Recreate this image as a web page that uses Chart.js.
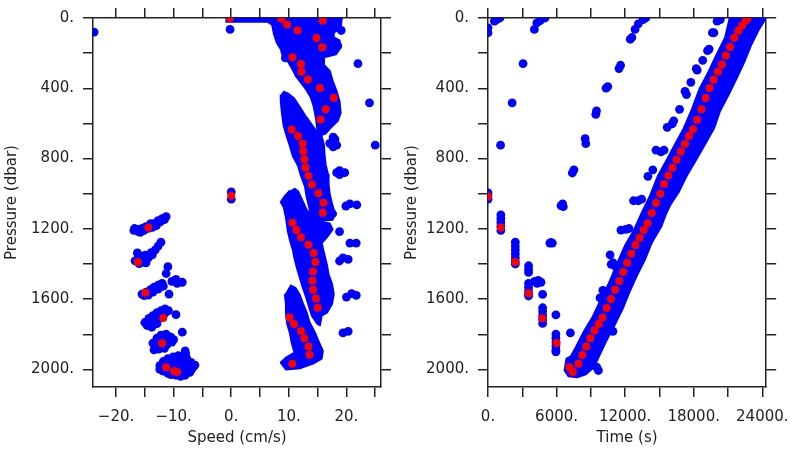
<!DOCTYPE html>
<html><head><meta charset="utf-8">
<script src="https://cdn.jsdelivr.net/npm/chart.js@4.4.1/dist/chart.umd.min.js"></script>
<style>
html,body{margin:0;padding:0;background:#fff;}
#wrap{position:relative;width:800px;height:450px;background:#fff;}
canvas{position:absolute;top:0;}
#c1{left:0;}#c2{left:400px;}
</style></head><body>
<div id="wrap"><canvas id="c1" width="400" height="450"></canvas><canvas id="c2" width="400" height="450"></canvas></div>
<script>
// ---------- ticks ----------
const speedTicks = [-20, -15, -10, -5, 0, 5, 10, 15, 20, 25];
const speedTickLabels = [-20, -10, 0, 10, 20];
const timeTicks = [0, 3000, 6000, 9000, 12000, 15000, 18000, 21000, 24000];
const timeTickLabels = [0, 6000, 12000, 18000, 24000];
const pressureTicks = [0, 200, 400, 600, 800, 1000, 1200, 1400, 1600, 1800, 2000];
const pressureTickLabels = [0, 400, 800, 1200, 1600, 2000];

// ---------- LEFT PANEL: speed (cm/s), pressure (dbar) ----------
const leftRed = [[-0.2,0],[8.7,4],[15.9,15],[9.7,37],[11.5,71],[14.8,114],[15.8,166],[10.6,223],[12.1,262],[12.2,306],[13.3,350],[15.4,398],[17.8,454],[16.4,519],[15.5,578],[10.5,634],[11.6,672],[12.4,715],[12.5,758],[12.7,804],[12.9,851],[13.4,898],[14.0,947],[15.1,997],[16.0,1052],[15.9,1109],[0.0,1012],[10.6,1165],[11.3,1207],[12.1,1248],[13.4,1291],[14.3,1337],[14.6,1388],[14.2,1443],[14.1,1495],[14.2,1547],[14.7,1597],[15.0,1649],[10.1,1705],[10.9,1742],[12.1,1781],[12.7,1823],[13.4,1870],[13.6,1916],[10.6,1968],[-14.4,1192],[-16.2,1389],[-14.9,1564],[-11.8,1708],[-12.0,1851],[-11.3,1987],[-9.9,2009],[-9.4,2015]];

const leftBlue = [[-23.8,80],[-0.2,65],[0,990],[0,1031],[22.0,260],[24.0,483],[25.0,724],[19.1,71],[18.5,158],[9.4,227],[18.3,724],[17.7,734],[17.7,678],[18.0,690],[17.1,713],[18.8,869],[19.7,880],[18.8,891],[18.3,880],[20.6,1058],[21.8,1064],[19.9,1070],[17.6,1114],[18.8,1216],[20.6,1281],[21.7,1281],[18.8,1383],[20.3,1374],[19.4,1365],[20.0,1588],[20.9,1569],[21.7,1578],[19.4,1792],[20.3,1783],
 [-16.9,1209],[-16.2,1203],[-15.5,1198],[-14.8,1187],[-14.1,1181],[-13.4,1170],[-12.7,1153],[-12.0,1142],[-11.3,1131],[-15.0,1203],[-13.7,1192],[-15.8,1220],
 [-16.2,1215],[-15.2,1210],[-14.4,1197],[-13.0,1182],[-12.3,1160],[-11.6,1148],[-16.8,1198],[-14.0,1170],
 [-16.3,1337],[-15.7,1354],[-16.7,1382],[-16.0,1398],[-15.1,1376],[-14.4,1365],[-13.7,1348],[-13.2,1320],[-12.7,1298],[-12.2,1276],[-14.8,1393],
 [-15.3,1365],[-14.9,1350],[-16.2,1370],[-15.5,1390],[-13.9,1335],
 [-15.5,1571],[-14.8,1560],[-14.1,1549],[-13.4,1532],[-12.7,1521],[-12.0,1510],[-14.4,1577],[-13.6,1560],[-12.7,1543],[-11.8,1526],[-11.0,1415],[-11.3,1454],[-10.8,1571],[-10.3,1499],[-9.4,1510],[-8.5,1504],[-9.6,1487],
 [-14.2,1565],[-13.0,1535],[-12.3,1530],[-15.1,1580],[-13.9,1545],
 [-15.0,1733],[-14.3,1710],[-13.6,1694],[-12.9,1677],[-12.2,1666],[-11.5,1655],[-14.1,1744],[-13.2,1727],[-12.4,1710],[-11.7,1688],[-9.6,1688],[-8.5,1788],
 [-13.9,1720],[-13.0,1705],[-12.2,1690],[-11.4,1675],[-14.6,1750],[-10.9,1665],[-12.9,1740],[-13.8,1760],
 [-13.6,1850],[-12.9,1822],[-12.2,1805],[-11.3,1799],[-10.5,1816],[-12.9,1872],[-12.0,1866],[-11.2,1861],[-10.3,1844],[-13.4,1889],[-8.0,1894],
 [-12.5,1835],[-11.6,1830],[-10.8,1828],[-13.2,1865],[-11.6,1880],[-12.6,1885],[-10.0,1830],[-11.0,1845],
 [-12.4,1978],[-11.8,1955],[-11.0,1939],[-10.1,1928],[-9.2,1922],[-8.4,1928],[-7.7,1939],[-11.5,1994],[-10.6,1978],[-9.6,1967],[-8.5,1961],[-7.5,1972],[-6.8,1994],[-10.3,2011],[-9.2,2006],[-8.2,2000],[-7.2,2017],[-11.0,2022],[-9.6,2033],[-8.0,2033],[-12.4,2000],[-7.9,1911],
 [-11.4,1960],[-10.5,1950],[-9.7,1945],[-8.8,1945],[-7.9,1950],[-7.0,1960],[-6.6,1985],[-7.0,2005],[-7.9,2020],[-8.8,2020],[-9.7,2020],[-10.6,2000],[-11.8,2010],[-10.5,2030],[-8.8,2040],[-9.2,1985],[-8.3,1985],[-10.0,1990],[-7.6,1995],[-11.0,1965],[-9.8,1955],[-8.8,1950],[-6.3,1975]];

// outlines of the dense sample clouds
const speedCloudA = [[-1.0,0],[19.2,0],[19.0,56],[17.8,84],[17.8,111],[18.8,128],[19.0,167],[18.2,206],[16.1,223],[16.1,267],[17.1,301],[17.6,357],[18.3,418],[18.8,474],[19.0,540],[18.5,585],[17.3,624],[16.4,657],[15.4,669],[14.9,624],[14.7,568],[14.3,501],[13.8,451],[13.0,407],[12.1,368],[11.2,329],[10.5,284],[9.8,245],[9.0,223],[8.6,178],[7.9,139],[7.4,89],[7.1,39],[6.4,22],[-1.0,22]];
const speedCloudB = [[9.0,418],[9.8,429],[10.9,457],[11.9,507],[13.0,563],[14.2,618],[15.0,652],[15.7,674],[16.1,724],[16.2,780],[16.4,836],[16.8,891],[16.9,947],[17.1,1003],[17.5,1058],[18.0,1114],[17.6,1148],[15.7,1153],[14.0,1136],[13.6,1086],[13.1,1019],[12.8,958],[12.1,897],[11.6,841],[10.7,786],[10.2,730],[9.7,680],[9.1,613],[8.8,540],[8.6,474],[8.6,435]];
const speedCloudC = [[10.9,969],[11.6,986],[12.3,1036],[13.1,1092],[14.3,1136],[15.7,1159],[17.1,1170],[17.6,1203],[16.6,1248],[15.7,1281],[16.1,1337],[16.6,1404],[16.9,1460],[17.5,1515],[17.8,1571],[17.5,1627],[16.6,1677],[15.7,1694],[15.4,1749],[14.9,1738],[14.0,1694],[13.5,1643],[13.0,1588],[12.4,1532],[11.9,1476],[11.4,1421],[11.0,1370],[10.7,1320],[10.2,1265],[9.8,1209],[9.5,1136],[9.1,1075],[8.6,1047],[9.3,1014],[10.2,981]];
const speedCloudD = [[10.2,1521],[11.2,1538],[11.9,1577],[12.4,1621],[13.1,1677],[13.6,1733],[14.5,1788],[15.2,1844],[15.9,1894],[15.7,1939],[14.2,1967],[11.9,1994],[9.5,2000],[8.6,1961],[9.5,1933],[11.0,1905],[10.5,1850],[10.2,1794],[9.7,1738],[9.5,1682],[9.5,1627],[9.3,1571]];

// ---------- RIGHT PANEL: time (s), pressure (dbar) ----------
const rightRed = [[0,1016],[1124,1192],[2391,1389],[3549,1567],[4757,1709],[6000,1849],[7120,1987],[7430,2014],
 [7910,1968],[8250,1918],[8590,1870],[8955,1823],[9320,1779],[9685,1742],[10020,1705],[10390,1651],[10760,1599],[11120,1547],[11490,1497],[11830,1445],[12170,1393],[12530,1341],[12900,1292],[13270,1250],[13630,1207],[13970,1168],[14330,1110],[14700,1053],[15070,1000],[15400,945],[15770,897],[16140,852],[16500,806],[16870,760],[17240,715],[17580,672],[17940,633],[18300,579],[18680,520],[19040,455],[19380,399],[19740,351],[20110,306],[20470,264],[20810,214],[21180,165],[21550,113],[21910,72],[22250,41],[22590,13],[22730,0]];

const rightBlue = [[0,56],[0,84],[557,18],[760,9],[1040,0],[0,995],[0,1012],[0,1031],
 [4986,0],[4563,15],[4276,28],[4056,65],[3067,260],[2113,483],[1099,724],
 [1124,1120],[1124,1142],[1124,1164],[1124,1187],[1124,1209],
 [2391,1276],[2391,1298],[2391,1320],[2391,1343],[2391,1365],[2391,1387],[2391,1400],
 [3549,1410],[3549,1432],[3549,1448],[3549,1510],[3549,1532],[3549,1554],[3549,1571],[3549,1582],[4080,1499],[4390,1493],[4640,1504],[4300,1510],[4780,1573],
 [4780,1649],[4780,1671],[4780,1694],[4780,1716],[4780,1738],[5940,1690],
 [5940,1799],[5940,1822],[5940,1844],[5940,1866],[5940,1889],[5940,1900],[7210,1792],
 [13800,0],[13570,9],[13150,33],[12870,65],[12590,111],[12450,121],[11600,269],[11460,288],[10480,390],[10330,399],[9490,529],[9430,548],[8500,687],[8560,715],[7520,864],[7380,882],[6530,1058],[6390,1068],[6590,1074],[5520,1277],[5630,1281],[5410,1281],
 [20330,9],[20050,18],[19630,84],[19770,84],[19350,177],[19210,186],[18790,241],[18220,288],[18300,297],[17750,366],[17240,418],[17370,436],[16760,520],[16250,585],[16110,603],[15680,622],[15400,752],[15130,762],[14700,752],[14420,864],[13990,901],[13440,1031],[13150,1040],[12730,1040],[11630,1207],[12050,1203],[12340,1198],[10780,1402],[9800,1593],[10930,1783],[10780,1774],[9510,1987],[9660,2006],
 [10680,1348],[10930,1393],[11180,1415],[10050,1550],[10600,1570]];

const timeCloud = [[24340,0],[24110,22],[23690,67],[23010,156],[22420,251],[21740,345],[21060,435],[20300,529],[19800,624],[19040,713],[18200,808],[17350,902],[16680,992],[16000,1058],[15580,1114],[15160,1187],[14310,1281],[13720,1376],[13040,1465],[12370,1560],[11780,1655],[11100,1744],[10340,1838],[9660,1933],[9240,1989],[8560,2028],[7800,2045],[7040,2039],[6700,2006],[6870,1939],[7250,1925],[7700,1872],[8450,1777],[9130,1705],[9900,1599],[10650,1499],[11330,1393],[12020,1292],[12760,1209],[13450,1109],[14200,1008],[14880,897],[15640,808],[16420,713],[17080,635],[17850,518],[18530,401],[19300,306],[19980,212],[20750,111],[21150,0]];

// ---------- drawing ----------
const BLUE = '#0000ff', RED = '#ff0000', INK = '#222222';
const FONT = {family: 'DejaVu Sans', size: 15};
const toXY = a => a.map(d => ({x: d[0], y: d[1]}));
const fmt = v => (v < 0 ? '\u2212' + (-v) : String(v)) + '.';

function cloud(arr) {
  return {type: 'line', data: toXY(arr), showLine: true, fill: 'shape', tension: 0,
    borderColor: BLUE, backgroundColor: BLUE, borderWidth: 2, borderJoinStyle: 'round',
    pointRadius: 0, pointHoverRadius: 0, order: 3};
}
function dots(arr, color, r, order) {
  return {type: 'scatter', data: toXY(arr), backgroundColor: color, borderWidth: 0,
    pointRadius: r, pointHoverRadius: r, order: order};
}
function axis(pos, min, max, tickVals, labels, title, size, opts) {
  const horiz = pos === 'top' || pos === 'bottom';
  const showLabels = labels !== null;
  return Object.assign({
    type: 'linear', position: pos, min: min, max: max,
    afterBuildTicks: s => { s.ticks = tickVals.map(v => ({value: v})); },
    ticks: {autoSkip: false, maxRotation: 0, minRotation: 0,
      display: showLabels, padding: horiz ? 11 : 9, font: FONT, color: INK,
      callback: v => (showLabels && labels.includes(v)) ? fmt(v) : ''},
    grid: {display: true, drawOnChartArea: false, drawTicks: true, tickLength: 10, color: INK, lineWidth: 1.5},
    border: {display: true, color: INK, width: 1.5},
    title: {display: !!title, text: title || '', font: FONT, color: INK,
      padding: horiz ? {top: 0, bottom: 3} : {top: 3, bottom: 0}},
    afterFit: s => { if (horiz) s.height = size; else s.width = size; }
  }, opts || {});
}
function makeChart(id, datasets, xmin, xmax, xticks, xlabels, xtitle, leftW, rightW) {
  return new Chart(document.getElementById(id), {
    type: 'scatter',
    data: {datasets: datasets},
    options: {
      responsive: false, animation: false, devicePixelRatio: 1,
      layout: {padding: 0},
      plugins: {legend: {display: false}, tooltip: {enabled: false}},
      events: [],
      scales: {
        x: axis('bottom', xmin, xmax, xticks, xlabels, xtitle, 63),
        x2: axis('top', xmin, xmax, xticks, null, null, 10),
        y: axis('left', 0, 2100, pressureTicks, pressureTickLabels, 'Pressure (dbar)', leftW, {reverse: true}),
        y2: axis('right', 0, 2100, pressureTicks, null, null, rightW, {reverse: true})
      }
    }
  });
}

makeChart('c1', [
  dots(leftRed, RED, 4, 0),
  dots(leftBlue, BLUE, 4.4, 1),
  cloud(speedCloudA), cloud(speedCloudB), cloud(speedCloudC), cloud(speedCloudD)
], -24, 26, speedTicks, speedTickLabels, 'Speed (cm/s)', 93, 19);

makeChart('c2', [
  dots(rightRed, RED, 4, 0),
  dots(rightBlue, BLUE, 4.4, 1),
  cloud(timeCloud)
], 0, 24340, timeTicks, timeTickLabels, 'Time (s)', 88, 24);
</script>
</body></html>
